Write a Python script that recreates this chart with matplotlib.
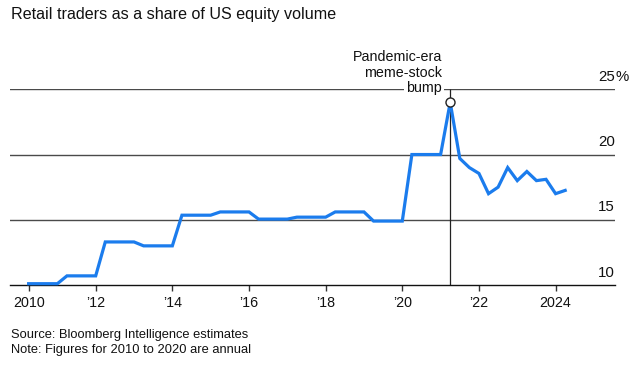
import matplotlib
matplotlib.use("Agg")
from matplotlib import pyplot as plt
import matplotlib.transforms as mtransforms
import numpy as np

plt.rcParams['font.family'] = ['Liberation Sans', 'DejaVu Sans']

# annual estimates 2010-2020 (shown repeated over each year's quarters)
annual_years = list(range(2010, 2021))
annual_share = [10.1, 10.7, 13.3, 13.0, 15.35, 15.6, 15.05, 15.2, 15.6, 14.9, 20.0]

# quarterly estimates, 2021 Q1 .. 2024 Q1
quarter_labels = ['2021Q1', '2021Q2', '2021Q3', '2021Q4',
                  '2022Q1', '2022Q2', '2022Q3', '2022Q4',
                  '2023Q1', '2023Q2', '2023Q3', '2023Q4',
                  '2024Q1']
quarter_share = [24.0, 19.7, 19.0, 18.55,
                 17.0, 17.5, 19.0, 18.0,
                 18.7, 18.0, 18.1, 17.0,
                 17.25]

xtick_pos = [2010.25, 2012, 2014, 2016, 2018, 2020, 2022, 2024]
xtick_labels = ['2010', '\u201912', '\u201914', '\u201916', '\u201918',
                '\u201920', '\u201922', '2024']
ytick_vals = [10, 15, 20, 25]
note_lines = ['Pandemic-era', 'meme-stock', 'bump']

# quarter-end positions as decimal years
x = []
y = []
for yr, v in zip(annual_years, annual_share):
    for q in range(1, 5):
        x.append(yr + q / 4)
        y.append(v)
for lab, v in zip(quarter_labels, quarter_share):
    yr = int(lab[:4])
    q = int(lab[-1])
    x.append(yr + q / 4)
    y.append(v)
x = np.array(x)
y = np.array(y)

fig = plt.figure(figsize=(6.33, 3.67), dpi=100)
ax = fig.add_axes([10 / 633, 1 - 285 / 367, 605 / 633, (285 - 89.3) / 367])

ax.set_xlim(2009.764, 2025.55)
ax.set_ylim(10, 25)

for v in ytick_vals[1:]:
    ax.axhline(v, color='#4a4a4a', lw=1.0, zorder=1)

ax.plot(x, y, color='#1b7ced', lw=2.3, solid_joinstyle='miter', zorder=3, clip_on=False)

# annotation for the peak
peak_i = int(np.argmax(y))
ax.vlines(x[peak_i], 10, 25, color='#222222', lw=0.9, zorder=2)
ax.plot(x[peak_i], y[peak_i], 'o', ms=6.5, mfc='white', mec='#222222', mew=1.0,
        zorder=4, clip_on=False)
# baselines in points above the 25 gridline, one per line of the note
note_dy = [20.6, 9.1, -1.8]
for line, dy in zip(note_lines, note_dy):
    kw = {}
    if line == note_lines[-1]:
        kw['bbox'] = dict(boxstyle='square,pad=0.12', fc='white', ec='none')
    ax.annotate(line, xy=(x[peak_i], 25), xytext=(-6, dy),
                textcoords='offset points', ha='right', va='baseline',
                fontsize=10.3, color='#111111', zorder=5,
                annotation_clip=False, **kw)

# y labels sit on the right, above each gridline
trans = mtransforms.blended_transform_factory(ax.transAxes, ax.transData)
off = mtransforms.offset_copy(trans, fig=fig, x=0, y=6, units='points')
for v in ytick_vals:
    ax.text(1.0, v, str(v), transform=off, ha='right', va='baseline',
            fontsize=10.8, color='#111111')
    if v == ytick_vals[-1]:
        ax.text(1.0, v, '%', transform=off, ha='left', va='baseline',
                fontsize=10.8, color='#111111')

ax.set_xticks(xtick_pos)
ax.set_xticklabels(xtick_labels)
ax.set_yticks([])
ax.tick_params(axis='x', length=4, width=1, color='#333333', pad=4,
               labelsize=10.3, labelcolor='#111111')

for s in ['left', 'right', 'top']:
    ax.spines[s].set_visible(False)
ax.spines['bottom'].set_color('#111111')
ax.spines['bottom'].set_linewidth(1.0)

fig.text(11 / 633, 1 - 19.5 / 367, 'Retail traders as a share of US equity volume',
         fontsize=11.6, color='#111111', va='baseline', ha='left')
fig.text(11 / 633, 1 - 338.3 / 367, 'Source: Bloomberg Intelligence estimates',
         fontsize=9.3, color='#111111', va='baseline', ha='left')
fig.text(11 / 633, 1 - 353 / 367, 'Note: Figures for 2010 to 2020 are annual',
         fontsize=9.3, color='#111111', va='baseline', ha='left')

fig.savefig('out.png', dpi=100)
